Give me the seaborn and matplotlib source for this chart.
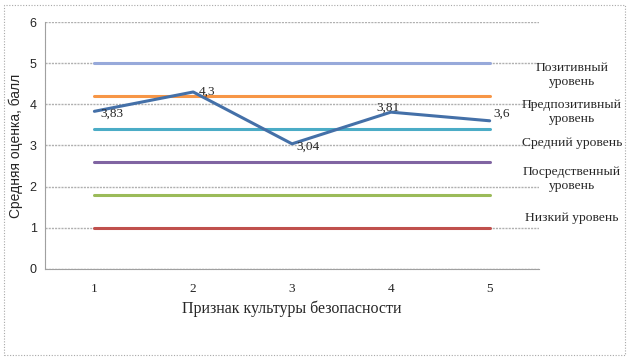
import pandas as pd
import matplotlib.pyplot as plt
import seaborn as sns
from matplotlib.patches import Rectangle

# data
features = [1, 2, 3, 4, 5]
scores = [3.83, 4.3, 3.04, 3.81, 3.6]
score_labels = ['3,83', '4,3', '3,04', '3,81', '3,6']

level_names = ['Позитивный\nуровень', 'Предпозитивный\nуровень', 'Средний уровень',
               'Посредственный\nуровень', 'Низкий уровень']
level_values = [5.0, 4.2, 3.4, 2.6, 1.8, 1.0]
level_colors = ['#97A9DA', '#F79646', '#4BACC6', '#8064A2', '#9BBB59', '#C0504D']

if __name__ == '__main__':
    sns.set_style('white')
    plt.rcParams['font.family'] = ['Liberation Serif', 'DejaVu Serif']

    rows = []
    for i, v in enumerate(level_values):
        for f in features:
            rows.append({'x': f, 'y': v, 'series': 'lvl%d' % i})
    df_lvl = pd.DataFrame(rows)
    df_main = pd.DataFrame({'x': features, 'y': scores})

    fig = plt.figure(figsize=(6.31, 3.61), dpi=100)
    ax = fig.add_axes([0.0713, 0.255, 0.783, 0.684])

    ## level lines
    sns.lineplot(data=df_lvl, x='x', y='y', hue='series',
                 palette=level_colors, linewidth=2.2, legend=False, ax=ax)
    ## main series
    sns.lineplot(data=df_main, x='x', y='y', color='#4470A8', linewidth=2.2, ax=ax)

    ## data labels
    offsets = [(4, -2), (4, 0), (3, -2), (-2, 3), (3, 5)]
    for f, s, lab, off in zip(features, scores, score_labels, offsets):
        ax.annotate(lab, (f, s), xytext=off, textcoords='offset points',
                    ha='left' if off[0] >= 0 else 'center', va='center', fontsize=9.5)

    ax.set_xlim(0.5, 5.5)
    ax.set_ylim(0, 6)
    ax.set_yticks(range(0, 7))
    ax.set_xticks(features)
    ax.set_xticks([0.5, 1.5, 2.5, 3.5, 4.5, 5.5], minor=True)
    ax.tick_params(axis='x', which='major', length=0, pad=10, labelsize=9.5)
    ax.tick_params(axis='x', which='minor', length=3, color='#A0A0A0', direction='out')
    ax.tick_params(axis='y', length=3, color='#A0A0A0', direction='out', pad=3)
    for t in ax.get_yticklabels():
        t.set_family('Liberation Sans')
        t.set_fontsize(9)

    ax.grid(axis='y', color='#B0B0B0', linestyle=(0, (1.5, 0.8)), linewidth=1)
    ax.set_axisbelow(True)
    for sp in ['top', 'right']:
        ax.spines[sp].set_visible(False)
    for sp in ['left', 'bottom']:
        ax.spines[sp].set_color('#A0A0A0')
        ax.spines[sp].set_linestyle((0, (1.5, 0.8)))

    ax.set_xlabel('Признак культуры безопасности', fontsize=11.5, labelpad=4)
    ax.set_ylabel('Средняя оценка, балл', fontsize=10, labelpad=4.5,
                  family='Liberation Sans')

    ## legend texts at right
    legend_y = [75, 112, 143, 179, 218]
    for name, yy in zip(level_names, legend_y):
        fig.text(572 / 631, 1 - yy / 361, name, ha='center', va='center',
                 fontsize=9.7, linespacing=1.2)

    fig.patches.append(Rectangle((4 / 631, 6 / 361), 621 / 631, 350 / 361,
                                 transform=fig.transFigure, fill=False,
                                 edgecolor='#A8A8A8', linestyle=(0, (1, 1.5)),
                                 linewidth=0.8))

    plt.savefig('out.png', dpi=100)
